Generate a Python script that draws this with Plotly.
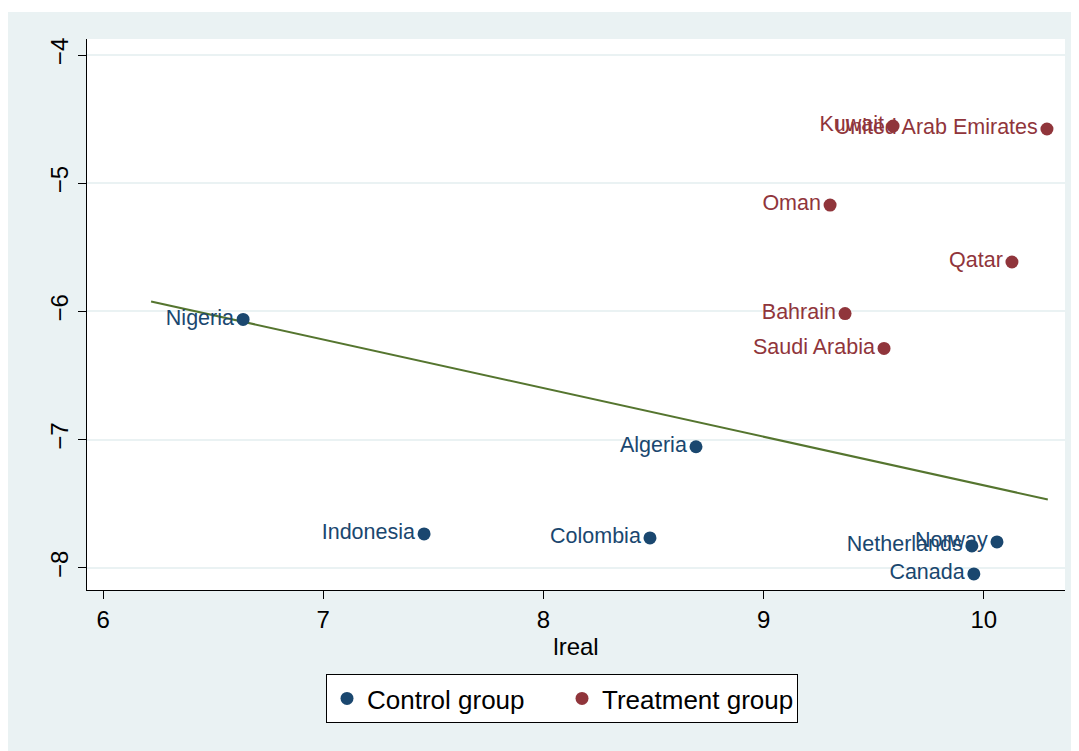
import plotly.graph_objects as go

# Control group
ctrl_names = ["Nigeria", "Indonesia", "Colombia", "Algeria", "Netherlands", "Norway", "Canada"]
ctrl_x = [6.636, 7.458, 8.484, 8.693, 9.946, 10.060, 9.955]
ctrl_y = [-6.062, -7.735, -7.766, -7.055, -7.828, -7.797, -8.047]

# Treatment group
treat_names = ["Kuwait", "United Arab Emirates", "Oman", "Qatar", "Bahrain", "Saudi Arabia"]
treat_x = [9.588, 10.287, 9.302, 10.128, 9.370, 9.547]
treat_y = [-4.554, -4.577, -5.170, -5.614, -6.016, -6.288]

# Fitted line
fit_x = [6.218, 10.291]
fit_y = [-5.922, -7.466]

x_ticks = [6, 7, 8, 9, 10]
y_ticks = [-8, -7, -6, -5, -4]

NAVY = "#1a476f"
MAROON = "#90353b"
GREEN = "#55752f"
BG = "#eaf2f3"
FONT = "Liberation Sans, Arial, sans-serif"

fig = go.Figure()
fig.add_trace(go.Scatter(x=fit_x, y=fit_y, mode="lines", line=dict(color=GREEN, width=2),
                         showlegend=False, hoverinfo="skip"))
fig.add_trace(go.Scatter(x=ctrl_x, y=ctrl_y, mode="markers+text", text=ctrl_names,
                         textposition="middle left", name="Control group",
                         marker=dict(color=NAVY, size=13),
                         textfont=dict(color=NAVY, size=21.5, family=FONT)))
fig.add_trace(go.Scatter(x=treat_x, y=treat_y, mode="markers+text", text=treat_names,
                         textposition="middle left", name="Treatment group",
                         marker=dict(color=MAROON, size=13),
                         textfont=dict(color=MAROON, size=21.5, family=FONT)))

# page offset of 8px (body margin)
OFF = 8
W, H = 1079 - OFF, 751 - OFF
L, R, T, B = 87 - OFF, 1079 - 1065, 39 - OFF, 751 - 590
pw, ph = W - L - R, H - T - B

def py(page_y):
    return (590 - page_y) / ph

def px(page_x):
    return (page_x - 87) / pw

fig.update_layout(
    width=W, height=H,
    margin=dict(l=L, r=R, t=T, b=B),
    paper_bgcolor=BG, plot_bgcolor="white",
    font=dict(family=FONT, color="black", size=24),
    showlegend=True,
    legend=dict(orientation="h", x=px(326), y=py(674),
                xanchor="left", yanchor="top", entrywidth=190,
                bgcolor="white", bordercolor="black", borderwidth=1,
                font=dict(size=26, family=FONT, color="black")),
    shapes=[
        dict(type="rect", xref="paper", yref="paper",
             x0=px(0), x1=px(1079),
             y0=py(12), y1=py(0),
             fillcolor="white", line=dict(width=0), layer="below"),
    ],
)
fig.update_xaxes(range=[5.927, 10.369], tickvals=x_ticks, ticks="outside", ticklen=8,
                 tickcolor="black", showline=True, linecolor="black", linewidth=1,
                 showgrid=False, zeroline=False, tickfont=dict(size=24),
                 title=dict(text="lreal", font=dict(size=24), standoff=6))
fig.update_yaxes(range=[-8.172, -3.875], tickvals=y_ticks, ticks="outside", ticklen=8,
                 tickcolor="black", showline=True, linecolor="black", linewidth=1,
                 showgrid=True, gridcolor=BG, gridwidth=2, zeroline=False,
                 tickangle=-90, tickfont=dict(size=24))

fig.write_html("out.html")
